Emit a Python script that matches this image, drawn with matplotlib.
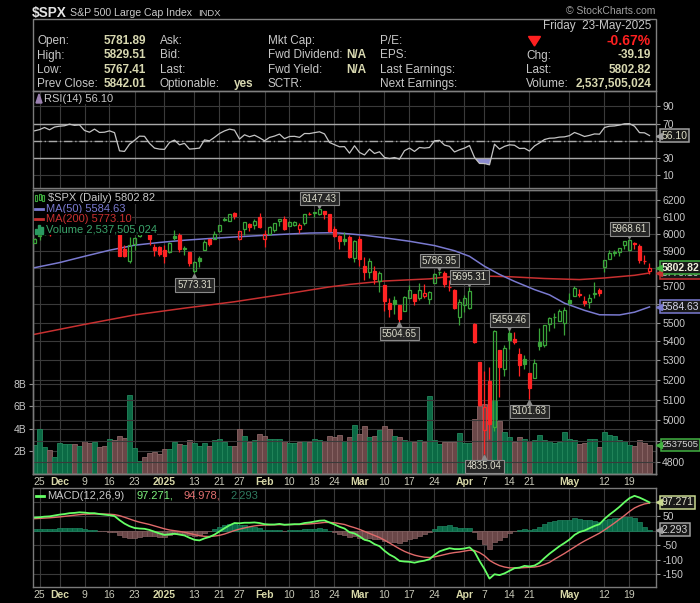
import numpy as np
import pandas as pd
import matplotlib.pyplot as plt
from matplotlib.patches import Rectangle, Polygon
from matplotlib import transforms
from matplotlib.ticker import NullLocator

plt.rcParams['font.family'] = ['Liberation Sans', 'DejaVu Sans']

# ---- sessions -------------------------------------------------------------
holidays = ['2024-11-28', '2024-12-25', '2025-01-01', '2025-01-09',
            '2025-01-20', '2025-02-17', '2025-04-18']
dates = pd.bdate_range('2024-11-22', '2025-05-23').difference(pd.to_datetime(holidays))

tick_dates = ['2024-11-25', '2024-12-02', '2024-12-09', '2024-12-16', '2024-12-23',
              '2025-01-02', '2025-01-13', '2025-01-21', '2025-01-27', '2025-02-03',
              '2025-02-10', '2025-02-18', '2025-02-24', '2025-03-03', '2025-03-10',
              '2025-03-17', '2025-03-24', '2025-04-01', '2025-04-07', '2025-04-14',
              '2025-04-21', '2025-05-01', '2025-05-12', '2025-05-19']
tick_labels = ['25', 'Dec', '9', '16', '23', '2025', '13', '21', '27', 'Feb', '10', '18',
               '24', 'Mar', '10', '17', '24', 'Apr', '7', '14', '21', 'May', '12', '19']

# ---- daily OHLC -----------------------------------------------------------
opens = [5944.36, 5992.28, 6000.03, 6014.11, 6003.98,
         6040.11, 6042.97, 6069.39, 6089.03, 6081.38,
         6083.01, 6057.59, 6060.15, 6074.29, 6068.17,
         6063.79, 6052.55, 6047.65, 5912.71, 5842.00,
         5940.25, 5984.63, 6024.97, 6006.17,
         5920.67, 5919.74, 5903.26, 5891.07,
         5982.81, 5993.26, 5910.66, 5890.75,
         5782.13, 5859.28, 5905.11, 5967.25, 5969.19,
         6014.12, 6081.39, 6076.32, 6121.43,
         5969.04, 6026.97, 6057.70, 6050.75, 6096.79,
         5969.65, 5998.14, 6020.45, 6072.22, 6083.13,
         6046.40, 6049.32, 6025.08, 6060.59, 6115.52,
         6121.60, 6117.76, 6134.50, 6114.10,
         6026.69, 5982.73, 5970.87, 5981.88, 5856.74,
         5968.33, 5811.98, 5781.41, 5785.87, 5726.01,
         5705.37, 5603.65, 5624.84, 5594.45, 5563.85,
         5635.60, 5654.53, 5632.37, 5646.92, 5630.73,
         5718.08, 5775.86, 5771.66, 5695.64, 5679.93,
         5527.91, 5597.53, 5580.76, 5492.74, 5292.14,
         4953.79, 5193.57, 4965.28, 5353.15, 5255.56,
         5441.96, 5411.99, 5335.75, 5305.45,
         5232.94, 5207.67, 5395.92, 5381.38, 5489.73,
         5529.22, 5508.87, 5499.44, 5625.14, 5645.70,
         5655.32, 5614.88, 5613.12, 5657.99, 5679.50,
         5807.89, 5854.21, 5886.55, 5895.30, 5933.19,
         5902.88, 5944.66, 5928.26, 5841.26, 5781.89]
highs = [5972.90, 6020.75, 6025.42, 6020.16, 6044.17,
         6053.58, 6052.06, 6089.84, 6092.27, 6099.97,
         6088.51, 6065.40, 6092.59, 6079.68, 6078.58,
         6085.19, 6057.68, 6070.67, 5935.52, 5982.06,
         5978.25, 6040.10, 6049.75, 6006.17,
         5940.79, 5929.74, 5935.09, 5949.34,
         6021.04, 6000.68, 5927.89, 5890.75,
         5838.97, 5871.92, 5960.61, 5969.20, 6014.96,
         6051.51, 6100.81, 6118.73, 6128.18,
         6017.17, 6069.09, 6062.83, 6086.64, 6120.91,
         6022.13, 6042.48, 6062.86, 6084.03, 6101.28,
         6073.38, 6076.28, 6063.39, 6116.91, 6127.47,
         6129.63, 6147.43, 6134.50, 6114.82,
         6043.65, 5992.65, 6009.82, 5993.69, 5959.40,
         5986.09, 5865.08, 5860.59, 5812.08, 5783.01,
         5705.37, 5636.30, 5642.19, 5597.78, 5645.27,
         5703.52, 5654.53, 5715.33, 5711.15, 5670.84,
         5775.14, 5786.95, 5783.62, 5732.28, 5685.89,
         5627.56, 5650.57, 5695.31, 5499.53, 5292.14,
         5246.57, 5267.47, 5458.00, 5353.15, 5381.46,
         5459.46, 5450.41, 5367.24, 5328.31,
         5232.94, 5309.60, 5469.69, 5489.40, 5528.11,
         5553.66, 5571.95, 5581.84, 5658.91, 5700.70,
         5683.54, 5645.00, 5654.00, 5720.10, 5691.68,
         5844.19, 5906.63, 5906.63, 5917.16, 5958.62,
         5968.61, 5953.06, 5938.37, 5878.08, 5829.51]
lows = [5944.36, 5963.91, 5992.27, 5984.87, 6003.98,
        6035.33, 6033.39, 6061.06, 6071.00, 6079.98,
        6048.63, 6029.89, 6060.15, 6051.25, 6035.77,
        6059.14, 6035.19, 5867.79, 5866.07, 5832.30,
        5902.57, 5981.44, 6007.37, 5932.95,
        5869.16, 5868.86, 5829.53, 5888.66,
        5960.01, 5890.68, 5874.78, 5809.89,
        5773.31, 5805.99, 5905.11, 5929.05, 5969.19,
        6006.88, 6076.13, 6074.67, 6088.74,
        5962.92, 5994.33, 6012.96, 6027.46, 6030.93,
        5923.93, 5990.87, 6007.06, 6046.83, 6019.96,
        6044.84, 6042.34, 6003.00, 6051.40, 6107.62,
        6099.51, 6111.15, 6084.59, 6008.56,
        5977.83, 5908.49, 5932.69, 5858.78, 5837.66,
        5810.91, 5732.59, 5742.35, 5711.64, 5666.29,
        5564.02, 5528.41, 5546.09, 5504.65, 5563.85,
        5631.12, 5597.76, 5622.20, 5632.33, 5603.10,
        5718.08, 5763.12, 5695.48, 5670.94, 5572.42,
        5488.73, 5558.52, 5571.48, 5390.83, 5069.90,
        4835.04, 4910.42, 4948.43, 5115.27, 5220.77,
        5358.02, 5386.44, 5220.79, 5255.58,
        5101.63, 5207.67, 5356.18, 5371.96, 5455.86,
        5468.64, 5505.70, 5433.24, 5597.35, 5641.97,
        5639.88, 5589.49, 5578.64, 5635.43, 5644.12,
        5779.36, 5853.66, 5868.22, 5867.08, 5910.68,
        5895.69, 5909.26, 5830.91, 5825.82, 5767.41]
closes = [5969.34, 5987.37, 6021.63, 5998.74, 6032.38,
          6047.15, 6049.88, 6086.49, 6075.11, 6090.27,
          6052.85, 6034.91, 6084.19, 6051.25, 6051.09,
          6074.08, 6050.61, 5872.16, 5867.08, 5930.85,
          5974.07, 6040.04, 6037.59, 5970.84,
          5906.94, 5881.63, 5868.55, 5942.47,
          5975.38, 5909.03, 5918.25, 5827.04,
          5836.22, 5842.91, 5949.91, 5937.34, 5996.66,
          6049.24, 6086.37, 6118.71, 6101.24,
          6012.28, 6067.70, 6039.31, 6071.17, 6040.53,
          5994.57, 6037.88, 6061.48, 6083.57, 6025.99,
          6066.44, 6068.50, 6051.97, 6115.07, 6114.63,
          6129.58, 6144.15, 6117.52, 6013.13,
          5983.25, 5955.25, 5956.06, 5861.57, 5954.50,
          5849.72, 5778.15, 5842.63, 5738.52, 5770.20,
          5614.56, 5572.07, 5599.30, 5521.52, 5638.94,
          5675.12, 5614.66, 5675.29, 5662.89, 5667.56,
          5767.57, 5776.65, 5712.20, 5693.31, 5580.94,
          5611.85, 5633.07, 5670.97, 5396.52, 5074.08,
          5062.25, 4982.77, 5456.90, 5268.05, 5363.36,
          5405.97, 5396.63, 5275.70, 5282.70,
          5158.20, 5287.76, 5375.86, 5484.77, 5525.21,
          5528.75, 5560.83, 5569.06, 5604.14, 5686.67,
          5650.38, 5606.91, 5631.28, 5663.94, 5659.91,
          5844.19, 5886.55, 5892.58, 5916.93, 5958.38,
          5963.60, 5940.46, 5844.61, 5842.01, 5802.82]
prev_close = 5948.71  # close before the first session, colours the first bar

# volume, billions of shares
volume = [2.50, 4.00, 2.30, 2.06, 1.40, 2.67, 2.60, 2.60, 2.60, 2.42,
          2.87, 2.70, 2.78, 2.30, 2.42, 3.02, 2.95, 3.32, 3.15, 7.00,
          2.20, 1.07, 1.40, 1.76, 1.88, 1.70, 2.12, 2.12, 2.78, 2.60,
          2.50, 2.95, 2.67, 2.42, 2.67, 2.42, 2.95, 3.02, 2.78, 2.42,
          2.42, 4.00, 3.30, 2.78, 2.95, 3.48, 3.30, 3.02, 3.02, 3.02,
          2.87, 2.70, 2.70, 2.78, 2.87, 2.78, 3.10, 2.97, 2.87, 3.32,
          3.25, 3.40, 2.87, 3.25, 4.30, 3.50, 4.22, 3.23, 3.30, 3.86,
          4.22, 4.00, 3.30, 3.23, 2.93, 2.87, 2.78, 2.93, 2.78, 6.93,
          2.93, 2.58, 2.78, 2.78, 2.78, 3.57, 2.67, 2.67, 4.83, 6.00,
          6.20, 6.10, 6.57, 4.67, 3.68, 3.23, 2.78, 3.23, 3.02, 2.87,
          2.97, 3.40, 3.00, 2.87, 2.72, 2.78, 3.68, 3.10, 2.93, 2.58,
          2.67, 3.02, 3.10, 2.30, 3.68, 3.40, 3.30, 3.00, 2.87, 2.50,
          2.42, 3.00, 2.67, 2.537505024]

# moving averages read at sample sessions
ma50_dates = ['2024-11-22', '2024-12-02', '2024-12-09', '2024-12-16', '2024-12-23',
              '2024-12-31', '2025-01-08', '2025-01-16', '2025-01-24', '2025-01-31',
              '2025-02-07', '2025-02-14', '2025-02-24', '2025-02-27', '2025-03-04',
              '2025-03-10', '2025-03-17', '2025-03-24', '2025-03-28', '2025-04-02',
              '2025-04-07', '2025-04-10', '2025-04-15', '2025-04-22', '2025-04-25',
              '2025-04-30', '2025-05-06', '2025-05-09', '2025-05-15', '2025-05-20',
              '2025-05-23']
ma50 = [5803, 5832, 5868, 5903, 5932, 5948, 5961, 5971, 5980, 5988,
        5996, 6003, 6005, 5998, 5990, 5975, 5955, 5930, 5900, 5868,
        5811, 5765, 5726, 5680, 5651, 5605, 5566, 5542, 5541, 5556,
        5584.63]
ma200_dates = ['2024-11-22', '2024-12-09', '2024-12-23', '2025-01-08', '2025-01-24',
               '2025-02-07', '2025-02-21', '2025-02-27', '2025-03-10', '2025-03-21',
               '2025-03-26', '2025-04-03', '2025-04-14', '2025-04-24', '2025-05-05',
               '2025-05-12', '2025-05-20', '2025-05-23']
ma200 = [5437, 5490, 5541, 5578, 5613, 5655, 5695, 5709, 5728, 5740,
         5750, 5757, 5752, 5742, 5736, 5745, 5760, 5773.10]

rsi = [61.6, 63.0, 65.5, 62.8, 66.0, 67.0, 67.5, 69.4, 68.0, 68.5,
       62.0, 60.0, 63.6, 59.7, 60.0, 61.6, 59.5, 38.3, 37.6, 46.0,
       50.5, 55.4, 55.2, 47.0, 41.5, 40.3, 40.0, 48.0, 50.8, 45.3,
       47.0, 40.3, 40.8, 41.5, 51.0, 50.0, 54.0, 58.5, 61.5, 63.6,
       62.4, 52.0, 57.0, 54.7, 56.5, 53.5, 50.0, 53.9, 55.5, 57.8,
       52.5, 55.0, 55.2, 54.0, 58.5, 58.4, 59.5, 60.5, 58.0, 48.0,
       45.5, 43.0, 43.2, 35.6, 44.2, 36.4, 33.5, 40.3, 35.2, 37.2,
       30.6, 29.3, 30.5, 28.6, 38.5, 41.5, 37.6, 42.2, 41.5, 42.2,
       50.0, 50.5, 45.0, 43.5, 37.0, 39.5, 41.5, 44.5, 30.6, 23.6,
       23.5, 22.0, 46.0, 40.3, 43.5, 45.3, 44.8, 41.0, 41.3, 38.0,
       44.0, 47.5, 51.5, 53.0, 53.2, 54.3, 54.6, 56.0, 59.7, 57.5,
       55.0, 56.3, 58.0, 57.7, 65.5, 67.0, 67.3, 68.3, 69.8, 70.0,
       67.0, 59.5, 59.3, 56.10]

macd = [45, 46, 48, 49, 52, 55, 57, 60, 61, 63,
        62, 60, 60, 57, 55, 53, 50, 36, 24, 15,
        9, 7, 6, 2, -4, -10, -15, -13, -11, -14,
        -17, -25, -32, -34, -27, -22, -14, -3, 8, 18,
        26, 25, 27, 27, 28, 26, 22, 21, 21, 23,
        20, 21, 22, 22, 26, 28, 31, 34, 35, 28,
        21, 13, 7, -6, -10, -20, -32, -36, -47, -54,
        -70, -83, -92, -105, -107, -108, -111, -107, -104, -99,
        -84, -72, -66, -61, -64, -64, -62, -58, -73, -105,
        -133, -166, -151, -154, -148, -139, -130, -128, -122, -124,
        -121, -111, -95, -80, -67, -54, -43, -31, -15, -5,
        0, 8, 16, 22, 40, 55, 68, 82, 98, 112,
        120, 114, 106, 97.271]
signal = [41, 42, 43, 44, 45.5, 47, 49, 51, 53, 55,
          56.5, 57, 57.5, 57.5, 57, 56.5, 55, 51.5, 46, 40,
          34, 29, 25, 21, 16, 11, 6, 2, -0.5, -3,
          -6, -10, -14, -18, -20, -20.5, -19, -16.5, -12, -6,
          0, 5, 9, 13, 16, 18, 19, 19.5, 20, 20.5,
          20.5, 20.5, 21, 21, 22, 23, 24.5, 26, 28, 28,
          27, 24, 21, 15, 10, 4, -3, -10, -17, -24,
          -33, -43, -53, -63, -72, -79, -85, -89, -92, -93,
          -91, -87, -83, -79, -76, -74, -71, -68, -69, -76,
          -87, -103, -113, -121, -126, -129, -129, -129, -128, -127,
          -126, -123, -117, -110, -99, -89, -79, -68, -57, -46,
          -36, -27, -18, -9, 2, 14, 26, 39, 52, 66,
          78, 86, 92, 94.978]
hist = [4, 4, 5, 5, 6.5, 8, 8, 9, 8, 8,
        5.5, 3, 2.5, -0.5, -2, -3.5, -5, -15.5, -22, -25,
        -25, -22, -19, -19, -20, -21, -21, -15, -10.5, -11,
        -11, -15, -18, -16, -7, -1.5, 5, 13.5, 20, 24,
        26, 20, 18, 14, 12, 8, 3, 1.5, 1, 2.5,
        -0.5, 0.5, 1, 1, 4, 5, 6.5, 8, 7, 0,
        -6, -11, -14, -21, -20, -24, -29, -26, -30, -30,
        -37, -40, -39, -42, -35, -29, -26, -18, -12, -6,
        7, 15, 17, 18, 12, 10, 9, 10, -4, -29,
        -46, -63, -38, -33, -22, -10, -1, 1, 6, 3,
        5, 12, 22, 30, 32, 35, 36, 37, 42, 41,
        36, 35, 34, 31, 38, 41, 42, 43, 46, 46,
        42, 28, 14, 2.293]

# labelled swing highs / lows
tag_dates = ['2025-01-13', '2025-02-19', '2025-03-13', '2025-03-25', '2025-04-02',
             '2025-04-07', '2025-04-14', '2025-04-21', '2025-05-19']
tag_kind = ['low', 'high', 'low', 'high', 'high', 'low', 'high', 'low', 'high']

# ---- colours --------------------------------------------------------------
BG = 'black'
GRID = '#3a3a3a'
SPINE = '#7a7a7a'
LAB = '#c8c8c8'
VAL = '#d8d8b0'
GREEN = '#3aa53a'
RED = '#ff2424'
MA50C = '#7a7ad0'
MA200C = '#c83030'

x = np.arange(len(dates))
o, h, l, c = map(np.array, (opens, highs, lows, closes))
prev = np.concatenate([[prev_close], c[:-1]])
up = c >= prev


def pos(ds):
    return dates.get_indexer(pd.to_datetime(ds))


tick_pos = pos(tick_dates)

fig = plt.figure(figsize=(7.0, 6.03), dpi=100, facecolor=BG)
L, W = 32.5 / 700, 623.5 / 700


def rect(top, bottom):
    return [L, 1 - bottom / 603, W, (bottom - top) / 603]


ax_rsi = fig.add_axes(rect(91, 188))
ax_vol = fig.add_axes(rect(190, 474))
ax = fig.add_axes(rect(190, 474))
ax_macd = fig.add_axes(rect(488, 587))
ax.patch.set_visible(False)

for a in (ax_rsi, ax_vol, ax, ax_macd):
    a.set_facecolor(BG)
    a.set_xlim(-0.4, 124.3)
    for sp in a.spines.values():
        sp.set_color(SPINE)
        sp.set_linewidth(1.0)
    a.set_xticks(tick_pos)
    a.set_xticklabels(tick_labels)
    a.tick_params(axis='x', length=0, pad=2.5, labelsize=7.5, labelcolor='#c8c8b8')
    a.tick_params(axis='y', direction='out', length=3, width=0.8, color='#909090',
                  labelsize=7.5, labelcolor=LAB, pad=1.5,
                  right=True, left=False, labelright=True, labelleft=False)
    for t, lab in zip(a.get_xticklabels(), tick_labels):
        if not lab.isdigit() or len(lab) == 4:
            t.set_fontweight('bold')
            t.set_color('#d8d8a8')
    a.set_axisbelow(True)

for a in (ax_rsi, ax_vol):
    a.tick_params(axis='x', labelbottom=False)

for a in (ax_rsi, ax_vol, ax_macd):
    a.grid(axis='x', color=GRID, lw=0.8)

# ---- RSI ------------------------------------------------------------------
r = np.array(rsi)
ax_rsi.set_ylim(-5, 108)
ax_rsi.set_yticks([10, 30, 50, 70, 90], ['10', '30', '', '70', '90'])
ax_rsi.grid(axis='y', color=GRID, lw=0.8)
ax_rsi.axhline(70, color='#a8a8a8', lw=1.0)
ax_rsi.axhline(30, color='#a8a8a8', lw=1.0)
ax_rsi.axhline(50, color='#a8a8a8', lw=1.0, ls=(0, (6, 2, 1, 2)))
ax_rsi.fill_between(x, r, 30, where=r < 30, interpolate=True, color='#8c8cd0', lw=0)
ax_rsi.plot(x, r, color='#c4c4c4', lw=0.9)

# ---- volume ---------------------------------------------------------------
v = np.array(volume) * 1e9
ax_vol.set_ylim(-0.1e9, 25.5e9)
ax_vol.bar(x, v, width=0.9, color=np.where(up, '#0b6a45', '#6a4748'),
           edgecolor=np.where(up, '#23875c', '#8a6666'), lw=0.6)
ax_vol.set_yticks([2e9, 4e9, 6e9, 8e9], ['2B', '4B', '6B', '8B'])
ax_vol.tick_params(axis='y', left=True, labelleft=True, right=False, labelright=False)
ax_vol.grid(axis='y', color=GRID, lw=0.8)

# ---- price ----------------------------------------------------------------
ax.set_yscale('log')
ax.set_ylim(4743, 6261)
pticks = list(range(4800, 6300, 100))
hidden = {4900, 5600, 5800}   # sit under the value tags
ax.set_yticks(pticks, ['' if p in hidden else str(p) for p in pticks])
ax.yaxis.set_minor_locator(NullLocator())
ax.grid(axis='y', color=GRID, lw=0.8)

ax.plot(pos(ma200_dates), ma200, color=MA200C, lw=1.1, zorder=2)
ax.plot(pos(ma50_dates), ma50, color=MA50C, lw=1.1, zorder=2)

for i in x:
    col = GREEN if up[i] else RED
    top, bot = max(o[i], c[i]), min(o[i], c[i])
    ax.vlines(i, top, h[i], color=col, lw=0.9, zorder=3)
    ax.vlines(i, l[i], bot, color=col, lw=0.9, zorder=3)
    ax.add_patch(Rectangle((i - 0.38, bot), 0.76, max(top - bot, 0.8),
                           facecolor=col if c[i] < o[i] else 'none',
                           edgecolor=col, lw=0.9, zorder=3))

for d, kind in zip(tag_dates, tag_kind):
    i = pos([d])[0]
    val = h[i] if kind == 'high' else l[i]
    dy = 7.2 if kind == 'high' else -8.6
    ax.annotate(f'{val:.2f}', xy=(i, val), xytext=(0, dy), textcoords='offset points',
                ha='center', va='center', fontsize=7, color='#dcdccc', zorder=6,
                bbox=dict(boxstyle='square,pad=0.18', fc='#262626', ec='#8a8a8a', lw=0.8))
    tr = transforms.offset_copy(ax.transData, fig=fig, x=0,
                                y=2.6 if kind == 'high' else -2.6, units='points')
    ax.plot(i, val, marker='v' if kind == 'high' else '^', ms=5, color='#8a8a8a',
            transform=tr, zorder=5, clip_on=False)

# ---- MACD -----------------------------------------------------------------
hs = np.array(hist)
ax_macd.set_ylim(-195, 147)
ax_macd.bar(x, hs, width=0.85, color=np.where(hs >= 0, '#0b6a48', '#6a4748'),
            edgecolor=np.where(hs >= 0, '#1f8560', '#866262'), lw=0.5)
ax_macd.plot(x, signal, color='#e06a6a', lw=1.0)
ax_macd.plot(x, macd, color='#66ff66', lw=1.3)
ax_macd.set_yticks([-150, -100, -50, 0, 50, 100], ['-150', '-100', '-50', '', '50', ''])
ax_macd.grid(axis='y', color=GRID, lw=0.8)


# ---- right-hand value tags ------------------------------------------------
def tag(a, yval, text, ec, tc, bold=False, ytrans=None, size=7.5):
    tr = transforms.blended_transform_factory(a.transAxes, ytrans or a.transData)
    a.annotate(text, xy=(1.0, yval), xycoords=tr, xytext=(4.2, 0),
               textcoords='offset points', ha='left', va='center', fontsize=size,
               fontweight='bold' if bold else 'normal', color=tc, zorder=8,
               annotation_clip=False,
               bbox=dict(boxstyle='square,pad=0.14', fc='#181818', ec=ec, lw=1.1))
    mt = transforms.offset_copy(tr, fig=fig, x=2.0, y=0, units='points')
    a.plot(1.0, yval, marker='<', ms=4.5, color=ec, transform=mt, zorder=9, clip_on=False)


tag(ax, ma200[-1], f'{ma200[-1]:.2f}', MA200C, '#c8c8c8')
tag(ax, c[-1], f'{c[-1]:.2f}', '#40b040', '#f0f0dc', bold=True)
tag(ax, ma50[-1], f'{ma50[-1]:.2f}', MA50C, '#d8d8ec')
tag(ax, v[-1], f'{v[-1] / 1e3:.0f}', '#40b040', '#d8d8d8', ytrans=ax_vol.transData, size=6.8)
tag(ax_rsi, r[-1], f'{r[-1]:.2f}', '#a0a0a0', '#e0e0c8')
tag(ax_macd, macd[-1], f'{macd[-1]:.3f}', '#c8d890', '#e8e8d0')
tag(ax_macd, hist[-1], f'{hist[-1]:.3f}', '#a0a0a0', '#d8d8d8')

# ---- header and legends (pixel overlay) -----------------------------------
ov = fig.add_axes([0, 0, 1, 1])
ov.set_xlim(0, 700)
ov.set_ylim(603, 0)
ov.axis('off')
ov.patch.set_alpha(0)
ov.set_zorder(20)

ov.text(32, 12.5, r'\$SPX', fontsize=9.8, fontweight='bold', color='#e4e4e4', va='center')
ov.text(70, 12.5, 'S&P 500 Large Cap Index', fontsize=7.6, color=LAB, va='center')
ov.text(198, 13, 'INDX', fontsize=6.8, color=LAB, va='center')
ov.text(655, 11.5, '\u00a9 StockCharts.com', fontsize=7.5, color='#a0a0a0',
        ha='right', va='center')
ov.add_patch(Rectangle((32.5, 19), 623.5, 72, fill=False, ec='#808080', lw=1))

rows = [41, 55.5, 70, 84]
chg = c[-1] - c[-2]
ov.text(651, 26.5, 'Friday  23-May-2025', fontsize=8.5, color=LAB, ha='right', va='center')
for y, lab, val in zip(rows, ['Open:', 'High:', 'Low:', 'Prev Close:'],
                       [o[-1], h[-1], l[-1], c[-2]]):
    ov.text(37, y, lab, fontsize=8.5, color=LAB, va='center')
    ov.text(146, y, f'{val:.2f}', fontsize=8.5, color=VAL, fontweight='bold',
            ha='right', va='center')
for y, lab in zip(rows, ['Ask:', 'Bid:', 'Last:', 'Optionable:']):
    ov.text(160, y, lab, fontsize=8.5, color=LAB, va='center')
ov.text(234, rows[3], 'yes', fontsize=8.5, color=VAL, fontweight='bold', va='center')
for y, lab in zip(rows, ['Mkt Cap:', 'Fwd Dividend:', 'Fwd Yield:', 'SCTR:']):
    ov.text(268, y, lab, fontsize=8.5, color=LAB, va='center')
for y in rows[1:3]:
    ov.text(366, y, 'N/A', fontsize=8.5, color=VAL, fontweight='bold', ha='right', va='center')
for y, lab in zip(rows, ['P/E:', 'EPS:', 'Last Earnings:', 'Next Earnings:']):
    ov.text(380, y, lab, fontsize=8.5, color=LAB, va='center')
for y, lab in zip(rows[1:], ['Chg:', 'Last:', 'Volume:']):
    ov.text(526, y, lab, fontsize=8.5, color=LAB, va='center')
ov.add_patch(Polygon([(528.5, 36.5), (540.5, 36.5), (534.5, 46)], closed=True, color='#ff2020'))
ov.text(651, rows[0], f'{chg / c[-2] * 100:.2f}%', fontsize=10, color='#ff2020',
        fontweight='bold', ha='right', va='center')
ov.text(651, rows[1], f'{chg:.2f}', fontsize=8.5, color=VAL, fontweight='bold',
        ha='right', va='center')
ov.text(651, rows[2], f'{c[-1]:.2f}', fontsize=8.5, color=VAL, fontweight='bold',
        ha='right', va='center')
ov.text(651, rows[3], f'{v[-1]:,.0f}', fontsize=8.5, color=VAL, fontweight='bold',
        ha='right', va='center')

LBOX = dict(fc='black', ec='none', pad=0.6)

# RSI legend
ov.add_patch(Polygon([(36, 103), (39, 94), (42, 103)], closed=True, color='#9a80b0'))
ov.text(44, 98.7, f'RSI(14) {r[-1]:.2f}', fontsize=8, color=LAB, va='center', bbox=LBOX)

# price legend
ov.add_patch(Rectangle((33.5, 192), 12, 42, color='black'))
for xx, y0, y1 in [(36, 195, 201), (39.5, 194, 200), (43, 195, 201)]:
    ov.add_patch(Rectangle((xx - 1, y0), 2, y1 - y0, fill=False, ec=GREEN, lw=0.8))
ov.text(47.5, 198, f'\\$SPX (Daily) {c[-1]:.2f}', fontsize=8, color=LAB, va='center', bbox=LBOX)
ov.plot([35, 43], [208.5, 208.5], color=MA50C, lw=2)
ov.text(45.5, 208.5, f'MA(50) {ma50[-1]:.2f}', fontsize=8, color=MA50C, va='center', bbox=LBOX)
ov.plot([35, 43], [219, 219], color=MA200C, lw=2)
ov.text(45.5, 219, f'MA(200) {ma200[-1]:.2f}', fontsize=8, color=MA200C, va='center', bbox=LBOX)
for xx, hh in [(35, 5), (38, 9), (41, 7)]:
    ov.add_patch(Rectangle((xx, 233.5 - hh), 2.2, hh, color='#2a9a60'))
ov.text(45.5, 229.3, f'Volume {v[-1]:,.0f}', fontsize=8, color='#3aa36a', va='center', bbox=LBOX)

# MACD legend
ov.plot([36, 44], [495.7, 495.7], color='#66ff66', lw=2)
ov.text(47.5, 495.7, 'MACD(12,26,9)', fontsize=8, color=LAB, va='center')
ov.text(136.5, 495.7, f'{macd[-1]:.3f},', fontsize=8, color='#7cf07c', va='center')
ov.text(184, 495.7, f'{signal[-1]:.3f},', fontsize=8, color='#e07070', va='center')
ov.text(230, 495.7, f'{hist[-1]:.3f}', fontsize=8, color='#2f7a5f', va='center')

fig.savefig('out.png', dpi=100, facecolor=BG)
